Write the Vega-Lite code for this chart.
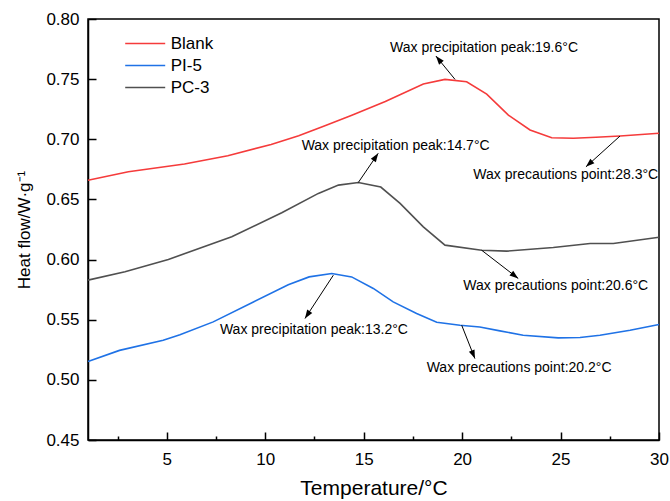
{
  "$schema": "https://vega.github.io/schema/vega-lite/v6.json",
  "width": 571,
  "height": 421,
  "autosize": "none",
  "padding": {"left": 88, "top": 19, "right": 11, "bottom": 61},
  "background": "white",
  "config": {
    "font": "Liberation Sans",
    "view": {"stroke": "black", "strokeWidth": 1.5},
    "axis": {"grid": false, "domainColor": "black", "domainWidth": 1.5, "tickColor": "black", "tickWidth": 1.5, "labelColor": "black", "titleColor": "black", "labelFont": "Liberation Sans", "titleFont": "Liberation Sans", "titleFontWeight": "normal"}
  },
  "datasets": {
    "curves": [
      {"series": "Blank", "temp": 1.0, "flow": 0.666},
      {"series": "Blank", "temp": 3.05, "flow": 0.673},
      {"series": "Blank", "temp": 5.9, "flow": 0.6794},
      {"series": "Blank", "temp": 8.1, "flow": 0.6863},
      {"series": "Blank", "temp": 10.3, "flow": 0.6957},
      {"series": "Blank", "temp": 11.7, "flow": 0.703},
      {"series": "Blank", "temp": 13.0, "flow": 0.711},
      {"series": "Blank", "temp": 14.4, "flow": 0.72},
      {"series": "Blank", "temp": 16.1, "flow": 0.7315},
      {"series": "Blank", "temp": 18.03, "flow": 0.746},
      {"series": "Blank", "temp": 19.13, "flow": 0.7498},
      {"series": "Blank", "temp": 20.23, "flow": 0.7478},
      {"series": "Blank", "temp": 21.25, "flow": 0.7376},
      {"series": "Blank", "temp": 22.35, "flow": 0.7201},
      {"series": "Blank", "temp": 23.45, "flow": 0.7077},
      {"series": "Blank", "temp": 24.55, "flow": 0.7013},
      {"series": "Blank", "temp": 25.65, "flow": 0.7008},
      {"series": "Blank", "temp": 26.8, "flow": 0.7017},
      {"series": "Blank", "temp": 28.02, "flow": 0.7027},
      {"series": "Blank", "temp": 30.0, "flow": 0.705},
      {"series": "PI-5", "temp": 1.0, "flow": 0.5152},
      {"series": "PI-5", "temp": 2.6, "flow": 0.5245},
      {"series": "PI-5", "temp": 4.82, "flow": 0.533},
      {"series": "PI-5", "temp": 5.67, "flow": 0.5375},
      {"series": "PI-5", "temp": 7.36, "flow": 0.5482},
      {"series": "PI-5", "temp": 9.4, "flow": 0.5648},
      {"series": "PI-5", "temp": 11.17, "flow": 0.579},
      {"series": "PI-5", "temp": 12.23, "flow": 0.5856},
      {"series": "PI-5", "temp": 13.38, "flow": 0.5884},
      {"series": "PI-5", "temp": 14.39, "flow": 0.5856},
      {"series": "PI-5", "temp": 15.49, "flow": 0.576},
      {"series": "PI-5", "temp": 16.5, "flow": 0.5648},
      {"series": "PI-5", "temp": 17.69, "flow": 0.5552},
      {"series": "PI-5", "temp": 18.71, "flow": 0.5479},
      {"series": "PI-5", "temp": 19.89, "flow": 0.5454},
      {"series": "PI-5", "temp": 20.9, "flow": 0.544},
      {"series": "PI-5", "temp": 21.92, "flow": 0.5407},
      {"series": "PI-5", "temp": 23.1, "flow": 0.5371},
      {"series": "PI-5", "temp": 24.88, "flow": 0.5349},
      {"series": "PI-5", "temp": 25.99, "flow": 0.5352},
      {"series": "PI-5", "temp": 27.0, "flow": 0.5371},
      {"series": "PI-5", "temp": 28.53, "flow": 0.5413},
      {"series": "PI-5", "temp": 30.0, "flow": 0.546},
      {"series": "PC-3", "temp": 1.0, "flow": 0.5829},
      {"series": "PC-3", "temp": 2.88, "flow": 0.5898},
      {"series": "PC-3", "temp": 5.08, "flow": 0.6001},
      {"series": "PC-3", "temp": 8.3, "flow": 0.6189},
      {"series": "PC-3", "temp": 10.84, "flow": 0.6389},
      {"series": "PC-3", "temp": 12.7, "flow": 0.655},
      {"series": "PC-3", "temp": 13.72, "flow": 0.6619},
      {"series": "PC-3", "temp": 14.73, "flow": 0.6641},
      {"series": "PC-3", "temp": 15.87, "flow": 0.6603},
      {"series": "PC-3", "temp": 16.85, "flow": 0.6467},
      {"series": "PC-3", "temp": 18.03, "flow": 0.6272},
      {"series": "PC-3", "temp": 19.13, "flow": 0.612},
      {"series": "PC-3", "temp": 20.99, "flow": 0.6078},
      {"series": "PC-3", "temp": 22.26, "flow": 0.607},
      {"series": "PC-3", "temp": 24.63, "flow": 0.6101},
      {"series": "PC-3", "temp": 26.5, "flow": 0.6134},
      {"series": "PC-3", "temp": 27.68, "flow": 0.6134},
      {"series": "PC-3", "temp": 30.0, "flow": 0.6185}
    ],
    "arrows": [
      {"x1": 19.64, "y1": 0.7498, "x2": 18.67, "y2": 0.7692},
      {"x1": 28.02, "y1": 0.7027, "x2": 26.29, "y2": 0.6771},
      {"x1": 14.73, "y1": 0.6641, "x2": 15.74, "y2": 0.6883},
      {"x1": 20.99, "y1": 0.6078, "x2": 22.85, "y2": 0.5843},
      {"x1": 13.46, "y1": 0.587, "x2": 12.02, "y2": 0.551},
      {"x1": 19.98, "y1": 0.5454, "x2": 20.65, "y2": 0.5177}
    ],
    "notes": [
      {"label": "Wax precipitation peak:19.6°C", "tx": 16.34, "ty": 0.7759},
      {"label": "Wax precautions point:28.3°C", "tx": 20.57, "ty": 0.6702},
      {"label": "Wax precipitation peak:14.7°C", "tx": 11.85, "ty": 0.6943},
      {"label": "Wax precautions point:20.6°C", "tx": 20.06, "ty": 0.5781},
      {"label": "Wax precipitation peak:13.2°C", "tx": 7.7, "ty": 0.5418},
      {"label": "Wax precautions point:20.2°C", "tx": 18.2, "ty": 0.5102}
    ]
  },
  "layer": [
    {
      "data": {"name": "curves"},
      "mark": {"type": "line", "strokeWidth": 1.6},
      "encoding": {
        "x": {
          "field": "temp", "type": "quantitative",
          "scale": {"domain": [1, 30], "nice": false, "zero": false},
          "axis": {
            "values": [2.5, 5, 7.5, 10, 12.5, 15, 17.5, 20, 22.5, 25, 27.5, 30],
            "labelExpr": "datum.value % 5 === 0 ? datum.label : ''",
            "tickSize": {"condition": {"test": "datum.value % 5 === 0", "value": -8}, "value": -4},
            "labelPadding": 19,
            "labelFontSize": 17,
            "labelFlush": false,
            "labelOverlap": false,
            "title": "Temperature/°C",
            "titleFontSize": 21,
            "titlePadding": 6
          }
        },
        "y": {
          "field": "flow", "type": "quantitative",
          "scale": {"domain": [0.45, 0.8], "nice": false, "zero": false},
          "axis": {
            "values": [0.45, 0.475, 0.5, 0.525, 0.55, 0.575, 0.6, 0.625, 0.65, 0.675, 0.7, 0.725, 0.75, 0.775, 0.8],
            "labelExpr": "round(datum.value * 1000) % 50 === 0 ? format(datum.value, '.2f') : ''",
            "tickSize": {"condition": {"test": "round(datum.value * 1000) % 50 === 0", "value": -8}, "value": -4},
            "labelPadding": 17,
            "labelFontSize": 17,
            "labelFlush": false,
            "labelOverlap": false,
            "title": "Heat flow/W·g⁻¹",
            "titleFontSize": 17,
            "titlePadding": 12
          }
        },
        "color": {
          "field": "series", "type": "nominal",
          "sort": ["Blank", "PI-5", "PC-3"],
          "scale": {"domain": ["Blank", "PI-5", "PC-3"], "range": ["#F53B3B", "#1F72E6", "#505050"]},
          "legend": {
            "orient": "none", "legendX": 48.7, "legendY": 16, "title": null,
            "symbolType": "M-4,0H4", "symbolSize": 100, "symbolStrokeWidth": 1.6,
            "labelFontSize": 17, "labelOffset": 17, "rowPadding": 4, "padding": 0,
            "labelColor": "black"
          }
        }
      }
    },
    {
      "data": {"name": "arrows"},
      "mark": {"type": "rule", "color": "black", "strokeWidth": 1},
      "encoding": {
        "x": {"field": "x1", "type": "quantitative"},
        "y": {"field": "y1", "type": "quantitative"},
        "x2": {"field": "x2"},
        "y2": {"field": "y2"}
      }
    },
    {
      "data": {"name": "arrows"},
      "transform": [
        {"calculate": "atan2((datum.x2 - datum.x1) * 571 / 29, (datum.y2 - datum.y1) * 421 / 0.35) * 180 / PI", "as": "ang"}
      ],
      "mark": {"type": "point", "shape": "M0,0L-0.35,1L0.35,1Z", "filled": true, "color": "black", "opacity": 1, "size": 300},
      "encoding": {
        "x": {"field": "x2", "type": "quantitative"},
        "y": {"field": "y2", "type": "quantitative"},
        "angle": {"field": "ang", "type": "quantitative", "scale": null}
      }
    },
    {
      "data": {"name": "notes"},
      "mark": {"type": "text", "align": "left", "baseline": "middle", "fontSize": 14, "font": "Liberation Sans", "color": "black"},
      "encoding": {
        "x": {"field": "tx", "type": "quantitative"},
        "y": {"field": "ty", "type": "quantitative"},
        "text": {"field": "label"}
      }
    }
  ]
}
